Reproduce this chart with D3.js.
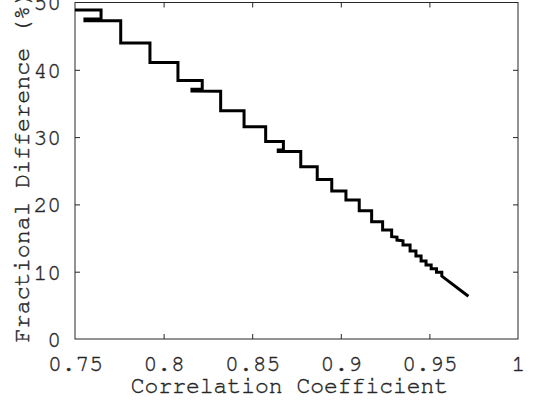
<!DOCTYPE html>
<html>
<head>
<meta charset="utf-8">
<script src="https://cdn.jsdelivr.net/npm/d3@7"></script>
<style>
  html, body { margin: 0; padding: 0; background: #fff; }
  svg { display: block; }
  text { font-family: "Nimbus Mono PS", "Nimbus Mono L", "FreeMono", "Courier New", Courier, "Liberation Mono", monospace; fill: #262626; stroke: #262626; stroke-width: 0.4px; }
</style>
</head>
<body>
<svg id="chart" width="541" height="406"></svg>
<script>
// Vertices of the staircase curve (correlation coefficient, fractional difference %)
const corr = [0.75, 0.7647, 0.7647, 0.7556, 0.7556, 0.7758, 0.7758, 0.7923, 0.7923, 0.8081, 0.8081,
  0.8218, 0.8218, 0.8160, 0.8160, 0.8322, 0.8322, 0.8454, 0.8454, 0.8576, 0.8576, 0.8676, 0.8676,
  0.8647, 0.8647, 0.8774, 0.8774, 0.8867, 0.8867, 0.8949, 0.8949, 0.9029, 0.9029, 0.9104, 0.9104,
  0.9174, 0.9174, 0.9236, 0.9236, 0.9287, 0.9287, 0.9317, 0.9317, 0.9351, 0.9351, 0.9391, 0.9391,
  0.9424, 0.9424, 0.9453, 0.9453, 0.9481, 0.9481, 0.9510, 0.9510, 0.9540, 0.9540, 0.9570, 0.9570, 0.9720];
const diff = [48.9, 48.9, 47.55, 47.55, 47.3, 47.3, 44.0, 44.0, 41.1, 41.1, 38.4,
  38.4, 37.1, 37.1, 36.85, 36.8, 33.9, 33.9, 31.55, 31.55, 29.35, 29.35, 28.1,
  28.1, 27.85, 27.85, 25.6, 25.6, 23.7, 23.7, 22.0, 22.0, 20.65, 20.65, 19.06,
  19.06, 17.43, 17.43, 16.2, 16.2, 15.2, 15.15, 14.7, 14.6, 13.97, 13.97, 13.08,
  13.08, 12.33, 12.33, 11.6, 11.6, 11.0, 11.0, 10.45, 10.45, 9.9, 9.9, 9.35, 6.35];

const xTicks = [0.75, 0.8, 0.85, 0.9, 0.95, 1];
const xTickLabels = ["0.75", "0.8", "0.85", "0.9", "0.95", "1"];
const yTicks = [0, 10, 20, 30, 40, 50];
const yTickLabels = ["0", "10", "20", "30", "40", "50"];
const xTitle = "Correlation Coefficient";
const yTitle = "Fractional Difference (%)";

const svg = d3.select("#chart");
const m = { left: 75, right: 518, top: 2.5, bottom: 339 };
const x = d3.scaleLinear().domain([0.75, 1]).range([m.left, m.right]);
const y = d3.scaleLinear().domain([0, 50]).range([m.bottom, m.top]);

const axisColor = "#262626";
const fontSize = 23;

svg.append("rect")
  .attr("x", m.left).attr("y", m.top)
  .attr("width", m.right - m.left).attr("height", m.bottom - m.top)
  .attr("fill", "none").attr("stroke", axisColor).attr("stroke-width", 1);

const tl = 5;
function styleAxis(g) {
  g.select(".domain").remove();
  g.attr("font-family", null).attr("font-size", null);
  g.selectAll(".tick line").attr("stroke", axisColor);
  g.selectAll(".tick text").style("font-size", fontSize + "px").attr("fill", axisColor);
}
const xb = svg.append("g").attr("transform", `translate(0,${m.bottom})`)
  .call(d3.axisBottom(x).tickValues(xTicks).tickFormat((d, i) => xTickLabels[i]).tickSizeInner(-tl).tickSizeOuter(0).tickPadding(16));
styleAxis(xb);
xb.selectAll(".tick").filter(d => d === 0.75 || d === 1).select("line").remove();
const xt = svg.append("g").attr("transform", `translate(0,${m.top})`)
  .call(d3.axisTop(x).tickValues(xTicks).tickFormat("").tickSizeInner(-tl).tickSizeOuter(0));
styleAxis(xt);
xt.selectAll(".tick").filter(d => d === 0.75 || d === 1).select("line").remove();

const yl = svg.append("g").attr("transform", `translate(${m.left},0)`)
  .call(d3.axisLeft(y).tickValues(yTicks).tickFormat((d, i) => yTickLabels[i]).tickSizeInner(-tl).tickSizeOuter(0).tickPadding(14));
styleAxis(yl);
yl.selectAll(".tick").filter(d => d === 0 || d === 50).select("line").remove();
yl.selectAll(".tick text").attr("dy", "0.32em");
const yr = svg.append("g").attr("transform", `translate(${m.right},0)`)
  .call(d3.axisRight(y).tickValues(yTicks).tickFormat("").tickSizeInner(-tl).tickSizeOuter(0));
styleAxis(yr);
yr.selectAll(".tick").filter(d => d === 0 || d === 50).select("line").remove();

svg.append("text")
  .attr("x", (m.left + m.right) / 2 - 7).attr("y", 393)
  .attr("text-anchor", "middle").style("font-size", fontSize + "px")
  .text(xTitle);
svg.append("text")
  .attr("transform", `translate(29,167) rotate(-90)`)
  .attr("text-anchor", "middle").style("font-size", "23.4px")
  .text(yTitle);

const pts = corr.map((c, i) => [c, diff[i]]);
svg.append("path")
  .datum(pts)
  .attr("fill", "none")
  .attr("stroke", "#000")
  .attr("stroke-width", 3)
  .attr("stroke-linejoin", "miter")
  .attr("d", d3.line().x(d => x(d[0])).y(d => y(d[1])));
</script>
</body>
</html>
